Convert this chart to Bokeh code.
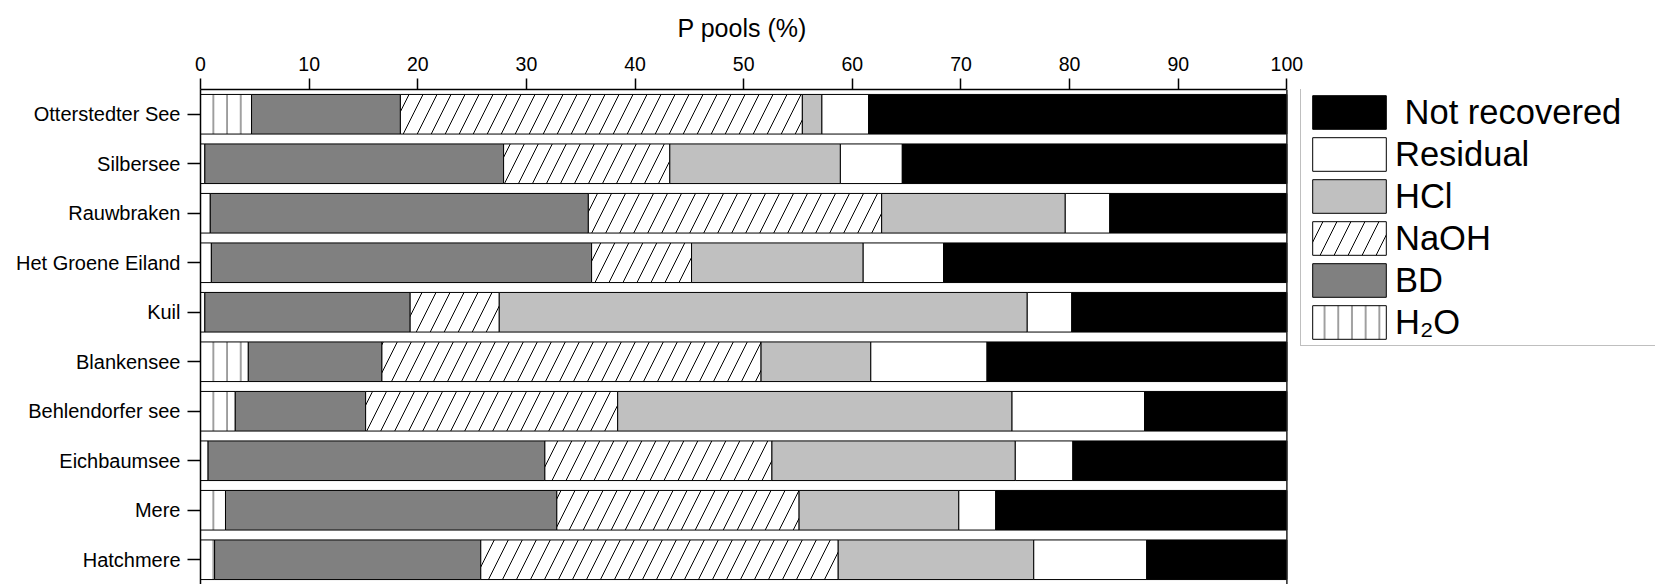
from bokeh.plotting import figure
from bokeh.models import (ColumnDataSource, FactorRange, Range1d, Legend,
                          LegendItem, FixedTicker, Span)
from bokeh.embed import file_html
from bokeh.resources import INLINE

lakes = ["Otterstedter See", "Silbersee", "Rauwbraken", "Het Groene Eiland",
         "Kuil", "Blankensee", "Behlendorfer see", "Eichbaumsee", "Mere",
         "Hatchmere"]
h2o = [4.7, 0.4, 0.9, 1.0, 0.4, 4.4, 3.2, 0.7, 2.3, 1.3]
bd = [13.7, 27.5, 34.8, 35.0, 18.9, 12.3, 12.0, 31.0, 30.5, 24.5]
naoh = [37.0, 15.3, 27.0, 9.2, 8.2, 34.9, 23.2, 20.9, 22.3, 32.9]
hcl = [1.8, 15.7, 16.9, 15.8, 48.6, 10.1, 36.3, 22.4, 14.7, 18.0]
residual = [4.3, 5.7, 4.1, 7.4, 4.1, 10.7, 12.2, 5.3, 3.4, 10.4]
not_recovered = [38.5, 35.4, 16.3, 31.6, 19.8, 27.6, 13.1, 19.7, 26.8, 12.9]

pools = ["h2o", "bd", "naoh", "hcl", "residual", "not_recovered"]
pool_labels = ["H\u2082O", "BD", "NaOH", "HCl", "Residual", "\u00a0Not recovered"]
x_ticks = list(range(0, 101, 10))
x_max = 100
x_title = "P pools (%)"

source = ColumnDataSource(dict(lake=lakes, h2o=h2o, bd=bd, naoh=naoh, hcl=hcl,
                               residual=residual, not_recovered=not_recovered))

FONT = "Liberation Sans"

# the frame reaches the right edge so the legend (drawn in the frame) is not clipped;
# the axis is bounded to 0..100 and a span closes the plot box at 100
p = figure(width=1655, height=584, output_backend="svg", toolbar_location=None,
           y_range=FactorRange(*reversed(lakes), range_padding=0),
           x_range=Range1d(0, 133.93), x_axis_location="above",
           title=x_title,
           min_border_left=200, min_border_right=0, min_border_top=89,
           min_border_bottom=0, background_fill_color="white",
           border_fill_color="white")

p.title.text_font = FONT
p.title.text_font_size = "25px"
p.title.text_font_style = "normal"
p.title.text_color = "black"
p.title.align = "left"
p.title.offset = 477
p.title.standoff = 23

renderers = p.hbar_stack(
    pools, y="lake", height=0.8, source=source,
    fill_color=["white", "#808080", "white", "#c0c0c0", "white", "black"],
    line_color="black", line_width=1,
    hatch_pattern=["|", " ", "/", " ", " ", " "],
    hatch_scale=[13.7, 12, 28, 12, 12, 12],
    hatch_color=["#444444", "black", "black", "black", "black", "black"],
    hatch_weight=[1, 1, 1, 1, 1, 1],
)

p.add_layout(Span(location=x_max, dimension="height", line_color="#222222",
                  line_width=1.5))

items = [LegendItem(label=lab, renderers=[r]) for lab, r in zip(pool_labels, renderers)]
items = list(reversed(items))
legend = Legend(items=items, location=(1100, 238), orientation="vertical",
                glyph_width=92, glyph_height=42, label_height=42, label_width=300,
                spacing=0, padding=2, label_standoff=0, margin=0,
                label_text_font=FONT, label_text_font_size="34.5px",
                label_text_color="black",
                border_line_color="#7f7f7f", border_line_width=1,
                background_fill_color="white", background_fill_alpha=1)
p.add_layout(legend, "center")

p.xgrid.visible = False
p.ygrid.visible = False
p.outline_line_color = None

xa = p.xaxis[0]
xa.bounds = (0, x_max)
xa.ticker = FixedTicker(ticks=x_ticks, minor_ticks=[])
xa.major_label_text_font = FONT
xa.major_label_text_font_size = "19.5px"
xa.major_label_standoff = 8
xa.major_tick_out = 11
xa.major_tick_in = 0
xa.minor_tick_out = 0
xa.minor_tick_in = 0
xa.major_tick_line_width = 1.5
xa.axis_line_width = 1.5
xa.major_label_text_color = "black"

ya = p.yaxis[0]
ya.major_label_text_font = FONT
ya.major_label_text_font_size = "20px"
ya.major_label_standoff = 7
ya.major_tick_out = 13
ya.major_tick_in = 0
ya.major_tick_line_width = 1.5
ya.axis_line_width = 1.5
ya.major_label_text_color = "black"

open("out.html", "w").write(file_html(p, INLINE))
